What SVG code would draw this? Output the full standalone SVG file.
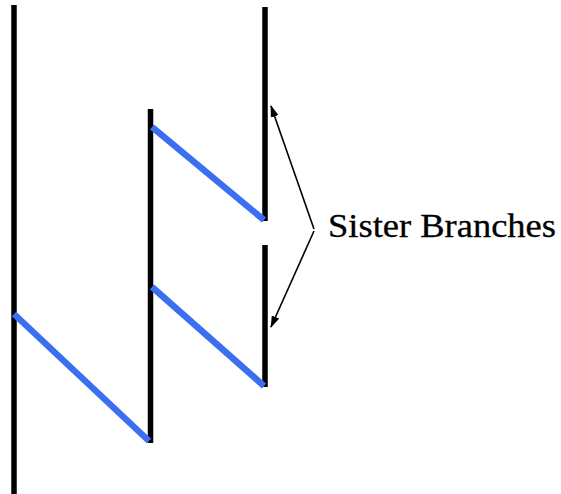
<svg xmlns="http://www.w3.org/2000/svg" width="561" height="494" viewBox="0 0 561 494">
  <style>
    .stem { stroke: #000; stroke-width: 5.5; fill: none; }
    .branch { stroke: #3b6ef0; stroke-width: 6.5; fill: none; }
    .pointer { stroke: #000; stroke-width: 1.6; fill: none; }
    .label { font-family: "Liberation Serif", "DejaVu Serif", serif; font-size: 33px; fill: #000; stroke: #000; stroke-width: 0.3; }
  </style>
  <defs>
    <marker id="tip" viewBox="0 0 12 8" refX="11" refY="4" markerWidth="12" markerHeight="8" markerUnits="userSpaceOnUse" orient="auto">
      <path d="M0,0 L12,4 L0,8 Z" fill="#000"/>
    </marker>
  </defs>

  <g id="stems">
    <g id="stem-left"><line class="stem" x1="14" y1="5" x2="14" y2="494"/></g>
    <g id="stem-middle"><line class="stem" x1="150.5" y1="109" x2="150.5" y2="443"/></g>
    <g id="stem-right-upper"><line class="stem" x1="265" y1="7" x2="265" y2="221"/></g>
    <g id="stem-right-lower"><line class="stem" x1="265" y1="245" x2="265" y2="387"/></g>
  </g>

  <g id="branches">
    <line class="branch" x1="14" y1="314" x2="149" y2="441"/>
    <line class="branch" x1="152" y1="127" x2="264" y2="220"/>
    <line class="branch" x1="152" y1="287" x2="264" y2="386"/>
  </g>

  <g id="connectors">
    <line class="pointer" x1="314" y1="229" x2="271" y2="106" marker-end="url(#tip)"/>
    <line class="pointer" x1="314" y1="231" x2="271" y2="327" marker-end="url(#tip)"/>
  </g>

  <g id="label-sister-branches">
    <text class="label" x="328" y="237" textLength="228" lengthAdjust="spacingAndGlyphs">Sister Branches</text>
  </g>
</svg>
